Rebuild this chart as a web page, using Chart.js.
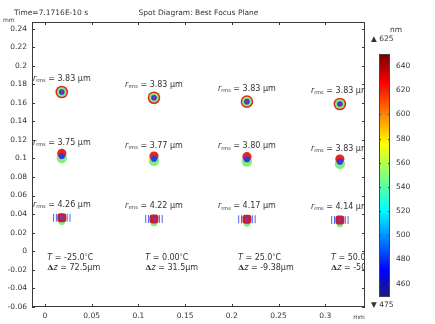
<!DOCTYPE html>
<html>
<head>
<meta charset="utf-8">
<script src="https://cdn.jsdelivr.net/npm/chart.js@4/dist/chart.umd.min.js"></script>
<style>
html, body { margin: 0; padding: 0; background: #fff; }
#wrap { position: relative; width: 435px; height: 324px; }
#spot { position: absolute; left: 0; top: 0; }
#cbar { position: absolute; left: 370px; top: 0; }
</style>
</head>
<body>
<div id="wrap">
  <canvas id="spot" width="435" height="324"></canvas>
  <canvas id="cbar" width="65" height="324"></canvas>
</div>
<script>
// Ejes (mm)
const xTicks = [0, 0.05, 0.1, 0.15, 0.2, 0.25, 0.3];
const yTicks = [-0.06, -0.04, -0.02, 0, 0.02, 0.04, 0.06, 0.08, 0.1, 0.12, 0.14, 0.16, 0.18, 0.2, 0.22, 0.24];

// Centros de los spots por columna (temperatura) y fila (campo)
const colX = [0.018, 0.1167, 0.2162, 0.3157];
const topY = [0.1716, 0.1655, 0.1612, 0.1587];
const midY = [0.1026, 0.0997, 0.0991, 0.0965];
const botY = [0.0361, 0.0347, 0.0344, 0.0336];

// Radios rms (um)
const rmsTop = ['3.83', '3.83', '3.83', '3.83'];
const rmsMid = ['3.75', '3.77', '3.80', '3.83'];
const rmsBot = ['4.26', '4.22', '4.17', '4.14'];

// Condiciones por columna
const temps = ['-25.0', '0.00', '25.0', '50.0'];
const dz = ['72.5', '31.5', '-9.38', '-50.3'];
const condX = [0.0025, 0.1073, 0.2066, 0.3062];
const condY = [-0.0073, -0.0181];

// Desplazamiento del centroide por longitud de onda (mm)
const midRedDy = [0.0028, 0.0028, 0.0028, 0.0028];
const midGreenDy = [-0.0022, -0.0022, -0.0024, -0.0024];
const botGreenDy = [-0.0045, -0.0045, -0.0045, -0.0045];
const botBlueDx = [-0.0088, -0.0058, 0.0058, 0.0088];

// Barra de color (nm)
const cbarTicks = [460, 480, 500, 520, 540, 560, 580, 600, 620, 640];
const cbarMin = 449;
const cbarMax = 650;
const lambdaMin = 475;
const lambdaMax = 625;

const RED = '#e5261d';
const GREEN = '#82ee7c';
const BLUE = '#2f3fde';
const TXT = '#333';
const FONT = '"DejaVu Sans"';

function pts(xs, ys, dys) {
    return xs.map((x, i) => ({ x: x, y: ys[i] + (dys ? dys[i] : 0) }));
}

function edgePts() {
    const out = [];
    colX.forEach((x, i) => botBlueDx.forEach(dx => out.push({ x: x + dx, y: botY[i] })));
    return out;
}

function dot(data, color, radius, order, extra) {
    return Object.assign({
        data: data,
        backgroundColor: color,
        borderColor: color,
        pointRadius: radius,
        pointBorderWidth: 0,
        pointHoverRadius: radius,
        order: order
    }, extra || {});
}

function drawRuns(ctx, runs, x, y, align) {
    let w = 0;
    runs.forEach(r => { ctx.font = r.font; r.w = ctx.measureText(r.t).width; w += r.w; });
    let cx = align === 'center' ? x - w / 2 : x;
    runs.forEach(r => {
        ctx.font = r.font;
        ctx.fillText(r.t, cx, y + (r.dy || 0));
        cx += r.w;
    });
}

function line(ctx, x1, y1, x2, y2) {
    ctx.beginPath();
    ctx.moveTo(x1, y1);
    ctx.lineTo(x2, y2);
    ctx.stroke();
}

const spotOverlay = {
    id: 'spotOverlay',
    afterDraw(chart) {
        const ctx = chart.ctx, a = chart.chartArea;
        const xs = chart.scales.x, ys = chart.scales.y;
        ctx.save();
        ctx.fillStyle = TXT;
        ctx.textBaseline = 'middle';

        // Textos dentro del área
        ctx.save();
        ctx.beginPath();
        ctx.rect(a.left, a.top, a.right - a.left, a.bottom - a.top);
        ctx.clip();
        const rows = [[topY, rmsTop], [midY, rmsMid], [botY, rmsBot]];
        rows.forEach(([ry, rv]) => {
            colX.forEach((x, i) => {
                const px = xs.getPixelForValue(x);
                const py = ys.getPixelForValue(ry[i]) - 13;
                drawRuns(ctx, [
                    { t: 'r', font: 'italic 8px ' + FONT },
                    { t: 'rms', font: '5px ' + FONT, dy: 2 },
                    { t: ' = ' + rv[i] + ' µm', font: '8px ' + FONT }
                ], px, py, 'center');
            });
        });
        colX.forEach((x, i) => {
            const px = xs.getPixelForValue(condX[i]);
            drawRuns(ctx, [
                { t: 'T', font: 'italic 8px ' + FONT },
                { t: ' = ' + temps[i], font: '8px ' + FONT },
                { t: '°', font: '6px ' + FONT, dy: -2 },
                { t: 'C', font: '8px ' + FONT }
            ], px, ys.getPixelForValue(condY[0]), 'left');
            drawRuns(ctx, [
                { t: 'Δ', font: 'bold 8px "DejaVu Serif"' },
                { t: 'z', font: 'italic 8px ' + FONT },
                { t: ' = ' + dz[i] + 'µm', font: '8px ' + FONT }
            ], px, ys.getPixelForValue(condY[1]), 'left');
        });
        ctx.restore();

        // Marco y marcas interiores
        ctx.strokeStyle = '#3a3a3a';
        ctx.lineWidth = 1;
        ctx.strokeRect(a.left + 0.5, a.top + 0.5, a.right - a.left - 1, a.bottom - a.top - 1);
        xTicks.forEach(v => {
            const px = Math.round(xs.getPixelForValue(v)) + 0.5;
            line(ctx, px, a.bottom, px, a.bottom - 3);
            line(ctx, px, a.top, px, a.top + 3);
        });
        yTicks.forEach(v => {
            const py = Math.round(ys.getPixelForValue(v)) + 0.5;
            line(ctx, a.left, py, a.left + 3, py);
            line(ctx, a.right, py, a.right - 3, py);
        });

        // Títulos y unidades
        ctx.font = '7.5px ' + FONT;
        ctx.textAlign = 'left';
        ctx.fillText('Time=7.1716E-10 s', 14, 13);
        ctx.textAlign = 'center';
        ctx.fillText('Spot Diagram: Best Focus Plane', (a.left + a.right) / 2, 13);
        ctx.font = '6px ' + FONT;
        ctx.textAlign = 'left';
        ctx.fillText('mm', 3, 20);
        ctx.textAlign = 'center';
        ctx.fillText('mm', 359, 317);
        ctx.restore();
    }
};

const tickFont = { family: 'DejaVu Sans', size: 7.5 };

new Chart(document.getElementById('spot'), {
    type: 'scatter',
    data: {
        datasets: [
            // Fila superior: anillos concéntricos
            dot(pts(colX, topY), RED, 6.3, 40),
            dot(pts(colX, topY), GREEN, 4.8, 39),
            dot(pts(colX, topY), BLUE, 2.8, 38),
            dot(pts(colX, topY), RED, 1.1, 37),
            // Fila media
            dot(pts(colX, midY, midGreenDy), GREEN, 5.2, 30),
            dot(pts(colX, midY, midRedDy), RED, 4.6, 29),
            dot(pts(colX, midY), BLUE, 3.1, 28),
            // Fila inferior
            dot(pts(colX, botY, botGreenDy), GREEN, 3.2, 20),
            dot(edgePts(), BLUE, 4, 19, { pointStyle: 'line', rotation: 90, pointBorderWidth: 1, borderColor: '#5565ea' }),
            dot(pts(colX, botY), '#c21f3c', 5.2, 18, { pointStyle: 'rectRounded' }),
            dot(pts(colX, botY), '#6a3fc4', 1.6, 17)
        ]
    },
    options: {
        responsive: false,
        animation: false,
        events: [],
        layout: { padding: { top: 22, right: 70, left: 0, bottom: 0 } },
        plugins: { legend: { display: false }, tooltip: { enabled: false } },
        scales: {
            x: {
                type: 'linear',
                min: -0.0139,
                max: 0.3426,
                afterBuildTicks: s => { s.ticks = xTicks.map(v => ({ value: v })); },
                afterFit: s => { s.height = 17; s.paddingLeft = 0; s.paddingRight = 0; },
                grid: { display: false, drawTicks: false },
                border: { display: false },
                ticks: {
                    padding: 5,
                    maxRotation: 0,
                    autoSkip: false,
                    color: TXT,
                    font: tickFont,
                    callback: v => String(+v.toFixed(2))
                }
            },
            y: {
                type: 'linear',
                min: -0.0602,
                max: 0.2471,
                afterBuildTicks: s => { s.ticks = yTicks.map(v => ({ value: v })); },
                afterFit: s => { s.width = 32; s.paddingTop = 0; s.paddingBottom = 0; },
                grid: { display: false, drawTicks: false },
                border: { display: false },
                ticks: {
                    padding: 5,
                    autoSkip: false,
                    color: TXT,
                    font: tickFont,
                    callback: v => String(+v.toFixed(2))
                }
            }
        }
    },
    plugins: [spotOverlay]
});

// Barra de color (jet)
function jetGradient(chart) {
    const a = chart.chartArea;
    if (!a) return '#888';
    const g = chart.ctx.createLinearGradient(0, a.bottom, 0, a.top);
    g.addColorStop(0, '#1a1a80');
    g.addColorStop(0.11, '#0000ff');
    g.addColorStop(0.36, '#00ffff');
    g.addColorStop(0.63, '#ffff00');
    g.addColorStop(0.88, '#ff0000');
    g.addColorStop(1, '#7a0000');
    return g;
}

const cbarOverlay = {
    id: 'cbarOverlay',
    afterDraw(chart) {
        const ctx = chart.ctx, a = chart.chartArea, ys = chart.scales.y;
        ctx.save();
        ctx.strokeStyle = '#444';
        ctx.lineWidth = 1;
        ctx.strokeRect(a.left + 0.5, a.top + 0.5, a.right - a.left - 1, a.bottom - a.top - 1);
        cbarTicks.forEach(v => {
            const py = Math.round(ys.getPixelForValue(v)) + 0.5;
            line(ctx, a.left, py, a.left + 2, py);
            line(ctx, a.right, py, a.right - 2, py);
        });
        ctx.fillStyle = TXT;
        ctx.textBaseline = 'middle';
        ctx.textAlign = 'left';
        ctx.font = '7.5px ' + FONT;
        ctx.fillText('nm', 20, 30);
        ctx.fillText('▲ ' + lambdaMax, 1, 39);
        ctx.fillText('▼ ' + lambdaMin, 1, 305);
        ctx.restore();
    }
};

new Chart(document.getElementById('cbar'), {
    type: 'bar',
    data: {
        labels: ['nm'],
        datasets: [{
            data: [[cbarMin, cbarMax]],
            backgroundColor: c => jetGradient(c.chart),
            borderWidth: 0,
            barPercentage: 1,
            categoryPercentage: 1
        }]
    },
    options: {
        responsive: false,
        animation: false,
        events: [],
        layout: { padding: { top: 54, left: 9, right: 0, bottom: 27 } },
        plugins: { legend: { display: false }, tooltip: { enabled: false } },
        scales: {
            x: { display: false },
            y: {
                position: 'right',
                min: cbarMin,
                max: cbarMax,
                afterBuildTicks: s => { s.ticks = cbarTicks.map(v => ({ value: v })); },
                afterFit: s => { s.width = 45; s.paddingTop = 0; s.paddingBottom = 0; },
                grid: { display: false, drawTicks: false },
                border: { display: false },
                ticks: { padding: 6, color: TXT, font: tickFont, autoSkip: false }
            }
        }
    },
    plugins: [cbarOverlay]
});
</script>
</body>
</html>
